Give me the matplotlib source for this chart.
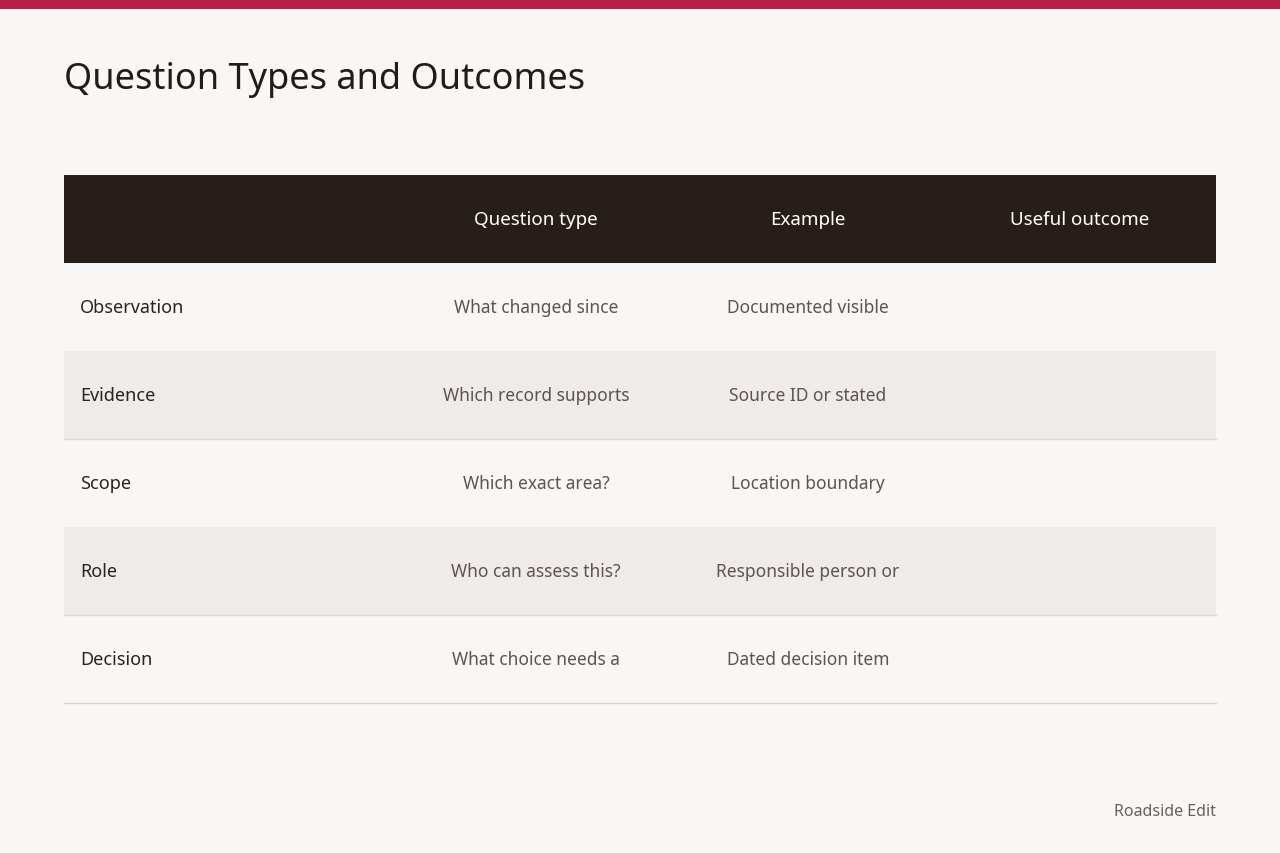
import matplotlib.pyplot as plt
from matplotlib.patches import Rectangle

title = "Question Types and Outcomes"
headers = ["", "Question type", "Example", "Useful outcome"]
row_labels = ["Observation", "Evidence", "Scope", "Role", "Decision"]
question_types = ["What changed since", "Which record supports", "Which exact area?",
                  "Who can assess this?", "What choice needs a"]
examples = ["Documented visible", "Source ID or stated", "Location boundary",
            "Responsible person or", "Dated decision item"]
outcomes = ["", "", "", "", ""]
footer = "Roadside Edit"

plt.rcParams['font.family'] = ['Noto Sans', 'DejaVu Sans']

fig = plt.figure(figsize=(12.8, 8.54), dpi=100, facecolor='#F8F7F5')
ax = fig.add_axes([0, 0, 1, 1])
ax.set_xlim(0, 1280)
ax.set_ylim(854, 0)
ax.axis('off')

# top accent bar
ax.add_patch(Rectangle((0, 0), 1280, 10, color='#B81E48', lw=0))
ax.text(64, 80, title, fontsize=26, color='#231B18', va='center', ha='left')

left, right = 64, 1216
header_top, header_h, row_h = 176, 88, 88
col_centers = [536, 808, 1080]

ax.add_patch(Rectangle((left, header_top), right - left, header_h, color='#271D19', lw=0))
for cx, h in zip(col_centers, headers[1:]):
    ax.text(cx, header_top + header_h / 2, h, fontsize=13.5, color='white', ha='center', va='center')

for i, lab in enumerate(row_labels):
    top = header_top + header_h + i * row_h
    if i % 2 == 1:
        ax.add_patch(Rectangle((left, top), right - left, row_h, color='#EFEBE8', lw=0))
        ax.plot([left, right], [top + row_h, top + row_h], color='#DCD7D3', lw=1)
    cy = top + row_h / 2
    ax.text(80, cy, lab, fontsize=13, color='#2A2220', ha='left', va='center')
    for cx, vals in zip(col_centers, [question_types, examples, outcomes]):
        ax.text(cx, cy, vals[i], fontsize=12.5, color='#5E534E', ha='center', va='center')

last = header_top + header_h + len(row_labels) * row_h
ax.plot([left, right], [last, last], color='#DCD7D3', lw=1)

ax.text(1216, 812, footer, fontsize=11.5, color='#6B5E58', ha='right', va='center')

fig.savefig('out.png', dpi=100, facecolor=fig.get_facecolor())
